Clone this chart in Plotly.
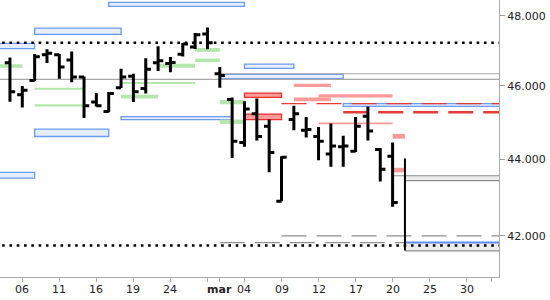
import plotly.graph_objects as go
import pandas as pd

# ---------------- data ----------------
dates = ["2015-02-05", "2015-02-06", "2015-02-09", "2015-02-10", "2015-02-11", "2015-02-12",
         "2015-02-13", "2015-02-16", "2015-02-17", "2015-02-18", "2015-02-19", "2015-02-20",
         "2015-02-23", "2015-02-24", "2015-02-25", "2015-02-26", "2015-02-27", "2015-03-02",
         "2015-03-03", "2015-03-04", "2015-03-05", "2015-03-06", "2015-03-09", "2015-03-10",
         "2015-03-11", "2015-03-12", "2015-03-13", "2015-03-16", "2015-03-17", "2015-03-18",
         "2015-03-19", "2015-03-20"]
opens = [46.65, 45.75, 46.15, 46.88, 46.88, 46.73, 46.25, 45.55, 45.29, 45.95, 46.27, 45.93,
         46.65, 46.63, 46.89, 47.10, 47.47, 46.34, 45.62, 44.45, 45.23, 44.89, 42.89, 45.07,
         44.78, 44.61, 44.14, 44.33, 44.21, 45.16, 44.26, 44.08]
highs = [46.80, 46.00, 46.90, 47.03, 46.90, 46.97, 46.26, 45.80, 45.83, 46.48, 46.34, 46.78,
         47.12, 46.81, 47.21, 47.50, 47.66, 46.53, 45.68, 45.57, 45.65, 45.07, 44.08, 45.45,
         45.14, 44.87, 44.96, 44.63, 45.14, 45.43, 44.30, 44.45]
lows = [45.56, 45.40, 46.14, 46.64, 46.20, 46.10, 45.11, 45.43, 45.27, 45.94, 45.55, 45.79,
        46.42, 46.38, 46.83, 47.04, 47.03, 45.95, 44.03, 44.33, 44.50, 43.65, 42.89, 44.78,
        44.58, 43.97, 43.80, 43.80, 44.19, 44.50, 43.41, 42.75]
closes = [45.84, 45.88, 46.82, 46.92, 46.53, 46.25, 45.45, 45.45, 45.79, 46.25, 45.84, 46.47,
          46.71, 46.66, 47.18, 47.45, 47.22, 46.29, 44.48, 45.36, 44.61, 44.18, 44.05, 45.23,
          44.80, 44.48, 44.35, 44.35, 44.89, 44.76, 43.73, 42.86]

# last (incomplete) session drawn as a plain range line
last_day = "2015-03-23"
last_range = [41.63, 44.02]

# x-axis ticks
tick_days = ["2015-02-06", "2015-02-11", "2015-02-16", "2015-02-19", "2015-02-24", "2015-02-27",
             "2015-03-02", "2015-03-04", "2015-03-09", "2015-03-12", "2015-03-17", "2015-03-20",
             "2015-03-25", "2015-03-30", "2015-04-01"]
tick_labels = ["06", "11", "16", "19", "24", "", "<b>mar</b>", "04", "09", "12", "17", "20",
               "25", "30", ""]
y_ticks = [42, 44, 46, 48]
y_tick_labels = ["42.000", "44.000", "46.000", "48.000"]

LEFT, RIGHT = "2015-02-02", "2015-04-08"   # open-ended zones

# price zones: start, end, low, high, kind
zone_start = [LEFT, "2015-02-09", "2015-02-17", "2015-02-09", LEFT, "2015-02-18", "2015-03-04",
              "2015-03-02", "2015-03-16",
              "2015-03-04", "2015-03-04",
              "2015-03-10", "2015-03-10", "2015-03-12", "2015-03-12", "2015-03-20", "2015-03-20",
              LEFT, "2015-02-09", "2015-02-09", "2015-02-18", "2015-02-18", "2015-02-23",
              "2015-02-26", "2015-02-26", "2015-03-02", "2015-03-02",
              "2015-03-23", "2015-03-23"]
zone_end = ["2015-02-09", "2015-02-18", "2015-03-04", "2015-02-17", "2015-02-09", "2015-03-03",
            "2015-03-10", "2015-03-16", RIGHT,
            "2015-03-09", "2015-03-09",
            "2015-03-13", "2015-03-13", "2015-03-20", "2015-03-20", "2015-03-23", "2015-03-23",
            "2015-02-06", "2015-02-13", "2015-02-13", "2015-02-26", "2015-02-23", "2015-02-26",
            "2015-03-02", "2015-03-02", "2015-03-04", "2015-03-04",
            RIGHT, RIGHT]
zone_low = [47.05, 47.46, 48.27, 44.61, 43.50, 45.07, 46.49, 46.20, 45.43,
            45.68, 45.07,
            45.97, 45.57, 45.68, 44.94, 44.55, 43.65,
            46.51, 45.89, 45.43, 46.05, 45.65, 46.51, 46.96, 46.67, 45.49, 44.95,
            43.43, 41.62]
zone_high = [47.20, 47.64, 48.39, 44.81, 43.65, 45.15, 46.61, 46.32, 45.51,
             45.80, 45.22,
             46.06, 45.68, 45.77, 44.99, 44.68, 43.77,
             46.61, 45.95, 45.49, 46.11, 45.75, 46.62, 47.07, 46.77, 45.61, 45.07,
             43.56, 41.83]
zone_kind = ["blue"] * 9 + ["red"] * 2 + ["pink"] * 6 + ["green"] * 10 + ["gray"] * 2

# horizontal levels: price, start, end, style
level_price = [47.22, 41.755, 46.18, 46.34, 45.51, 45.27, 42.00, 41.83,
               43.56, 43.43, 41.83, 41.62]
level_start = [LEFT, LEFT, LEFT, "2015-03-02", "2015-03-09", "2015-03-16", "2015-03-09",
               "2015-03-02", "2015-03-20", "2015-03-23", "2015-03-23", "2015-03-23"]
level_end = [RIGHT, RIGHT, RIGHT, RIGHT, RIGHT, RIGHT, RIGHT, "2015-03-23",
             RIGHT, RIGHT, RIGHT, RIGHT]
level_style = ["dot", "dot", "gray", "gray", "redthin", "redthick", "graydash", "graydash",
               "gray2", "gray2", "blue", "gray2"]

# ---------------- build ----------------
days = [d.strftime("%Y-%m-%d") for d in pd.bdate_range("2015-02-02", "2015-04-10")]
pos = {d: i for i, d in enumerate(days)}

zone_style = {
    "blue": dict(fill="#e6eefd", line=dict(color="#6b9bf3", width=1.3)),
    "red": dict(fill="#ff9b9b", line=dict(color="#e8302c", width=1.3)),
    "pink": dict(fill="#ff9a9a", line=dict(width=0)),
    "green": dict(fill="#b5e6ae", line=dict(width=0)),
    "gray": dict(fill="#ececec", line=dict(width=0)),
}
line_style = {
    "dot": dict(color="black", width=2.6, dash="2.6px,4.7px"),
    "gray": dict(color="#a9a9a9", width=1.2),
    "gray2": dict(color="#8c8c8c", width=1.2),
    "redthin": dict(color="#e53a35", width=1.2, dash="25px,10px"),
    "redthick": dict(color="#e53a35", width=2.6, dash="25px,10px"),
    "graydash": dict(color="#8f8f8f", width=1.2, dash="25px,10px"),
    "blue": dict(color="#5c8ff5", width=2),
}

shapes = []
for s, e, lo, hi, k in zip(zone_start, zone_end, zone_low, zone_high, zone_kind):
    st = zone_style[k]
    shapes.append(dict(type="rect", xref="x", yref="y", x0=pos[s], x1=pos[e], y0=lo, y1=hi,
                       fillcolor=st["fill"], line=st["line"], layer="below"))
for p, s, e, k in zip(level_price, level_start, level_end, level_style):
    shapes.append(dict(type="line", xref="x", yref="y", x0=pos[s], x1=pos[e], y0=p, y1=p,
                       line=line_style[k], layer="below"))

# x tick labels as text placed under each tick
annotations = []
for d, t in zip(tick_days, tick_labels):
    if t:
        annotations.append(dict(x=pos[d], xref="x", y=0, yref="paper", text=t,
                                showarrow=False, xanchor="center", yanchor="middle",
                                yshift=-12, font=dict(family="DejaVu Sans", size=11,
                                                      color="#222")))

xs = [pos[d] for d in dates]
fig = go.Figure()
fig.add_trace(go.Ohlc(x=xs, open=opens, high=highs, low=lows, close=closes,
                      increasing=dict(line=dict(color="black", width=3)),
                      decreasing=dict(line=dict(color="black", width=3)),
                      tickwidth=0.42, hoverinfo="skip", showlegend=False))
fig.add_trace(go.Scatter(x=[pos[last_day], pos[last_day]], y=last_range, mode="lines",
                         line=dict(color="black", width=2), hoverinfo="skip", showlegend=False))

p6 = pos["2015-02-06"]
fig.update_layout(
    width=550, height=300,
    margin=dict(l=0, r=51, t=0, b=23),
    paper_bgcolor="white", plot_bgcolor="white",
    shapes=shapes,
    annotations=annotations,
    showlegend=False,
    font=dict(family="DejaVu Sans", size=11, color="#222"),
    xaxis=dict(range=[p6 - 1.807, p6 + 38.62], rangeslider=dict(visible=False),
               tickvals=[pos[d] for d in tick_days], showticklabels=False,
               ticks="outside", ticklen=4, tickcolor="#aaa", showline=True, linecolor="#aaa",
               showgrid=False, zeroline=False),
    yaxis=dict(type="log", range=[1.61242, 1.68538], side="right",
               tickvals=y_ticks, ticktext=y_tick_labels,
               ticks="outside", ticklen=5, tickcolor="#999", showline=True, linecolor="#aaa",
               showgrid=False, zeroline=False, tickfont=dict(size=11, color="#222")),
)

fig.write_html("out.html", config={"displayModeBar": False})
